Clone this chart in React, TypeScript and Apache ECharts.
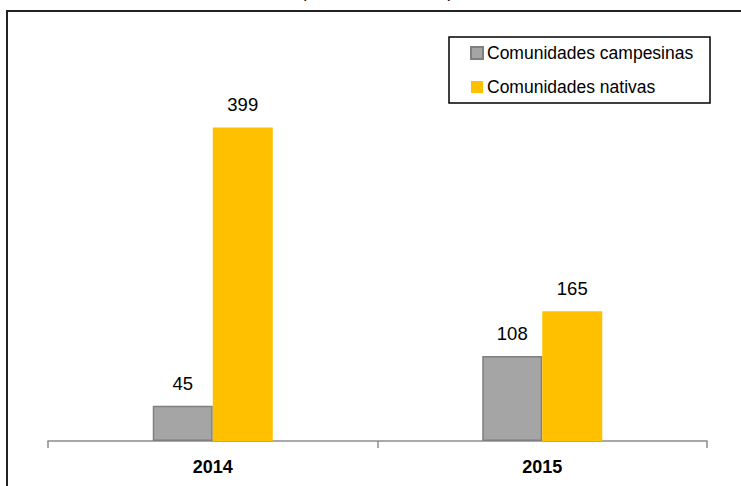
import React, { useEffect, useRef } from "react";
import * as echarts from "echarts";

const categories = ["2014", "2015"];
const campesinas = [45, 108];
const nativas = [399, 165];
const seriesNames = ["Comunidades campesinas", "Comunidades nativas"];
const clippedTitle = "(Número de casos)";

const FONT = "'Liberation Sans', Arial, sans-serif";

export default function App() {
  const ref = useRef<HTMLDivElement>(null);
  useEffect(() => {
    if (!ref.current) return;
    const chart = echarts.init(ref.current, null, { renderer: "svg" });
    const labelStyle = {
      show: true,
      position: "top",
      distance: 13,
      color: "#000",
      fontSize: 18.5,
      fontFamily: FONT,
    };
    chart.setOption({
      animation: false,
      backgroundColor: "#fff",
      textStyle: { fontFamily: FONT },
      graphic: [
        {
          type: "rect",
          shape: { x: 7, y: 11, width: 900, height: 700 },
          style: { fill: "none", stroke: "#222", lineWidth: 2 },
          silent: true,
          z: 100,
        },
        {
          type: "rect",
          shape: { x: 449, y: 37, width: 261, height: 66 },
          style: { fill: "none", stroke: "#000", lineWidth: 1.5 },
          silent: true,
          z: 100,
        },
        {
          type: "text",
          x: 377,
          y: -9,
          style: {
            text: clippedTitle,
            fill: "#000",
            fontSize: 18,
            fontFamily: FONT,
            align: "center",
            verticalAlign: "middle",
          },
          silent: true,
        },
      ],
      legend: {
        orient: "vertical",
        left: 470,
        top: 43,
        padding: 0,
        icon: "rect",
        itemWidth: 12,
        itemHeight: 12,
        itemGap: 14,
        textStyle: { fontSize: 17.5, fontFamily: FONT, color: "#000", lineHeight: 20, padding: [0, 0, 0, -1] },
        data: seriesNames,
      },
      grid: { left: 48, right: 34, top: 48, bottom: 45, containLabel: false },
      xAxis: {
        type: "category",
        data: categories,
        axisLine: { show: true, lineStyle: { color: "#8c8c8c", width: 1.5 } },
        axisTick: { show: true, length: 7, interval: 0, alignWithLabel: false, lineStyle: { color: "#8c8c8c", width: 1.5 } },
        axisLabel: { fontSize: 18, fontWeight: "bold", color: "#000", fontFamily: FONT, margin: 17 },
      },
      yAxis: {
        type: "value",
        min: 0,
        max: 500,
        show: false,
        splitLine: { show: false },
      },
      series: [
        {
          name: seriesNames[0],
          type: "bar",
          data: campesinas,
          barWidth: 60,
          barGap: "0%",
          itemStyle: { color: "#A5A5A5", borderColor: "#7f7f7f", borderWidth: 1.5 },
          label: labelStyle,
        },
        {
          name: seriesNames[1],
          type: "bar",
          data: nativas,
          barWidth: 60,
          barGap: "0%",
          itemStyle: { color: "#FFC000" },
          label: labelStyle,
        },
      ],
    });
    return () => chart.dispose();
  }, []);
  return (
    <div
      ref={ref}
      style={{ position: "absolute", left: 0, top: 0, width: 741, height: 486 }}
    />
  );
}
